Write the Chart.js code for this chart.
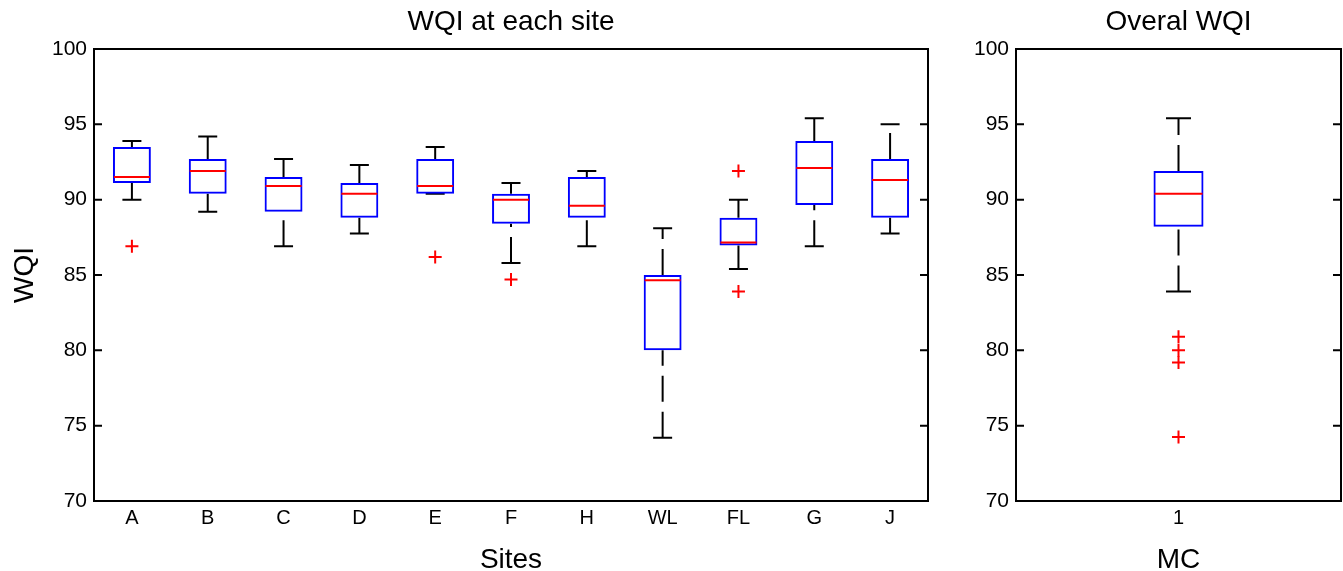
<!DOCTYPE html>
<html>
<head>
<meta charset="utf-8">
<script src="https://cdn.jsdelivr.net/npm/chart.js@4.4.1/dist/chart.umd.min.js"></script>
<style>
  html, body { margin: 0; padding: 0; background: #fff; overflow: hidden; }
  #wrap { position: relative; width: 1343px; height: 571px; overflow: hidden; }
  canvas { position: absolute; top: 0; }
  #siteChart { left: 0; }
  #overallChart { left: 960px; }
</style>
</head>
<body>
<div id="wrap">
  <canvas id="siteChart" width="960" height="590"></canvas>
  <canvas id="overallChart" width="383" height="590"></canvas>
</div>
<script>
// Sites box plot values
const sites = ['A', 'B', 'C', 'D', 'E', 'F', 'H', 'WL', 'FL', 'G', 'J'];
const siteMin    = [90.0, 89.2, 86.9, 87.75, 90.4, 85.8, 86.9, 74.2, 85.4, 86.9, 87.75];
const siteQ1     = [91.1, 90.4, 89.2, 88.8, 90.4, 88.4, 88.8, 80.0, 86.95, 89.65, 88.8];
const siteMedian = [91.5, 91.9, 90.9, 90.4, 90.9, 90.0, 89.6, 84.65, 87.15, 92.1, 91.3];
const siteQ3     = [93.5, 92.7, 91.5, 91.1, 92.7, 90.4, 91.5, 85.0, 88.8, 93.9, 92.7];
const siteMax    = [93.9, 94.2, 92.7, 92.3, 93.5, 91.1, 91.9, 88.1, 90.0, 95.4, 95.0];
const siteOutlierAt     = ['A', 'E', 'F', 'FL', 'FL'];
const siteOutlierValues = [86.9, 86.2, 84.7, 91.9, 83.9];

// Overall (MC) box plot values
const overall = ['1'];
const overallMin    = [83.9];
const overallQ1     = [88.2];
const overallMedian = [90.4];
const overallQ3     = [91.9];
const overallMax    = [95.4];
const overallOutlierAt     = ['1', '1', '1', '1'];
const overallOutlierValues = [80.9, 80.0, 79.2, 74.25];

const yTicks = [70, 75, 80, 85, 90, 95, 100];

Chart.defaults.font.family = "'Liberation Sans', Arial, sans-serif";
Chart.defaults.color = '#000';

// MATLAB-like box: full frame with inward ticks on both sides
const framePlugin = {
  id: 'frame',
  afterDatasetsDraw(chart) {
    const { ctx, chartArea: a, scales: { y } } = chart;
    ctx.save();
    ctx.strokeStyle = '#000';
    ctx.lineWidth = 2;
    ctx.strokeRect(a.left, a.top, a.right - a.left, a.bottom - a.top);
    ctx.beginPath();
    yTicks.forEach(function(v) {
      const py = y.getPixelForValue(v);
      ctx.moveTo(a.left, py);
      ctx.lineTo(a.left + 8, py);
      ctx.moveTo(a.right, py);
      ctx.lineTo(a.right - 8, py);
    });
    ctx.stroke();
    ctx.restore();
  }
};

function buildDatasets(labels, mins, q1, med, q3, maxs, outAt, outVals, medRadius, capRadius) {
  // whiskers drawn from lower to upper end so the dash pattern matches
  const whiskers = [];
  labels.forEach(function(l, i) {
    whiskers.push({ x: l, y: mins[i] }, { x: l, y: q1[i] }, { x: l, y: null });
    whiskers.push({ x: l, y: q3[i] }, { x: l, y: maxs[i] }, { x: l, y: null });
  });
  const caps = [];
  labels.forEach(function(l, i) {
    caps.push({ x: l, y: mins[i] }, { x: l, y: maxs[i] });
  });
  return [
    {
      type: 'bar',
      data: labels.map(function(l, i) { return [q1[i], q3[i]]; }),
      backgroundColor: 'rgba(0,0,0,0)',
      borderColor: '#0000ff',
      borderWidth: 2,
      borderSkipped: false,
      order: 1
    },
    {
      type: 'line',
      data: labels.map(function(l, i) { return { x: l, y: med[i] }; }),
      showLine: false,
      pointStyle: 'line',
      pointRadius: medRadius,
      pointBorderColor: '#ff0000',
      pointBorderWidth: 2,
      order: 0
    },
    {
      type: 'line',
      data: whiskers,
      borderColor: '#000',
      borderWidth: 2,
      borderDash: [26, 10],
      pointRadius: 0,
      spanGaps: false,
      fill: false,
      order: 3
    },
    {
      type: 'line',
      data: caps,
      showLine: false,
      pointStyle: 'line',
      pointRadius: capRadius,
      pointBorderColor: '#000',
      pointBorderWidth: 2,
      order: 2
    },
    {
      type: 'line',
      data: outAt.map(function(l, i) { return { x: l, y: outVals[i] }; }),
      showLine: false,
      pointStyle: 'cross',
      pointRadius: 6.5,
      pointBorderColor: '#ff0000',
      pointBorderWidth: 2,
      order: 0
    }
  ];
}

function buildOptions(titleText, xTitle, yTitle, yWidth, barPct, padRight) {
  return {
    responsive: false,
    animation: false,
    layout: { autoPadding: false, padding: { left: 0, right: padRight, top: 0, bottom: 0 } },
    plugins: {
      legend: { display: false },
      tooltip: { enabled: false },
      title: {
        display: true,
        text: titleText,
        fullSize: false,
        color: '#000',
        font: { size: 28, weight: 'normal', lineHeight: 1.2 },
        padding: { top: 5, bottom: 10.4 }
      }
    },
    datasets: { bar: { barPercentage: barPct, categoryPercentage: 1 } },
    scales: {
      x: {
        type: 'category',
        offset: true,
        grid: { display: false, drawTicks: false },
        border: { display: false },
        ticks: { padding: 5, font: { size: 20 }, color: '#000' },
        title: {
          display: true,
          text: xTitle,
          color: '#000',
          font: { size: 28, lineHeight: 1.2 },
          padding: { top: 0, bottom: 13 }
        },
        afterFit: function(s) {
          s.height = 89;
          s.paddingLeft = 0;
          s.paddingRight = 0;
        }
      },
      y: {
        min: 70,
        max: 100,
        grid: { display: false, drawTicks: false },
        border: { display: false },
        ticks: { stepSize: 5, padding: 7, font: { size: 21 }, color: '#000' },
        title: {
          display: !!yTitle,
          text: yTitle,
          color: '#000',
          font: { size: 28, lineHeight: 1.2 },
          padding: { top: 8, bottom: 0 }
        },
        afterFit: function(s) {
          s.width = yWidth;
          s.paddingTop = 0;
          s.paddingBottom = 0;
        }
      }
    }
  };
}

new Chart(document.getElementById('siteChart'), {
  type: 'bar',
  data: {
    labels: sites,
    datasets: buildDatasets(sites, siteMin, siteQ1, siteMedian, siteQ3, siteMax,
      siteOutlierAt, siteOutlierValues, 18, 9.5)
  },
  options: buildOptions('WQI at each site', 'Sites', 'WQI', 94, 0.5, 32),
  plugins: [framePlugin]
});

new Chart(document.getElementById('overallChart'), {
  type: 'bar',
  data: {
    labels: overall,
    datasets: buildDatasets(overall, overallMin, overallQ1, overallMedian, overallQ3, overallMax,
      overallOutlierAt, overallOutlierValues, 24, 12.5)
  },
  options: buildOptions('Overal WQI', 'MC', '', 56, 0.154, 2),
  plugins: [framePlugin]
});
</script>
</body>
</html>
